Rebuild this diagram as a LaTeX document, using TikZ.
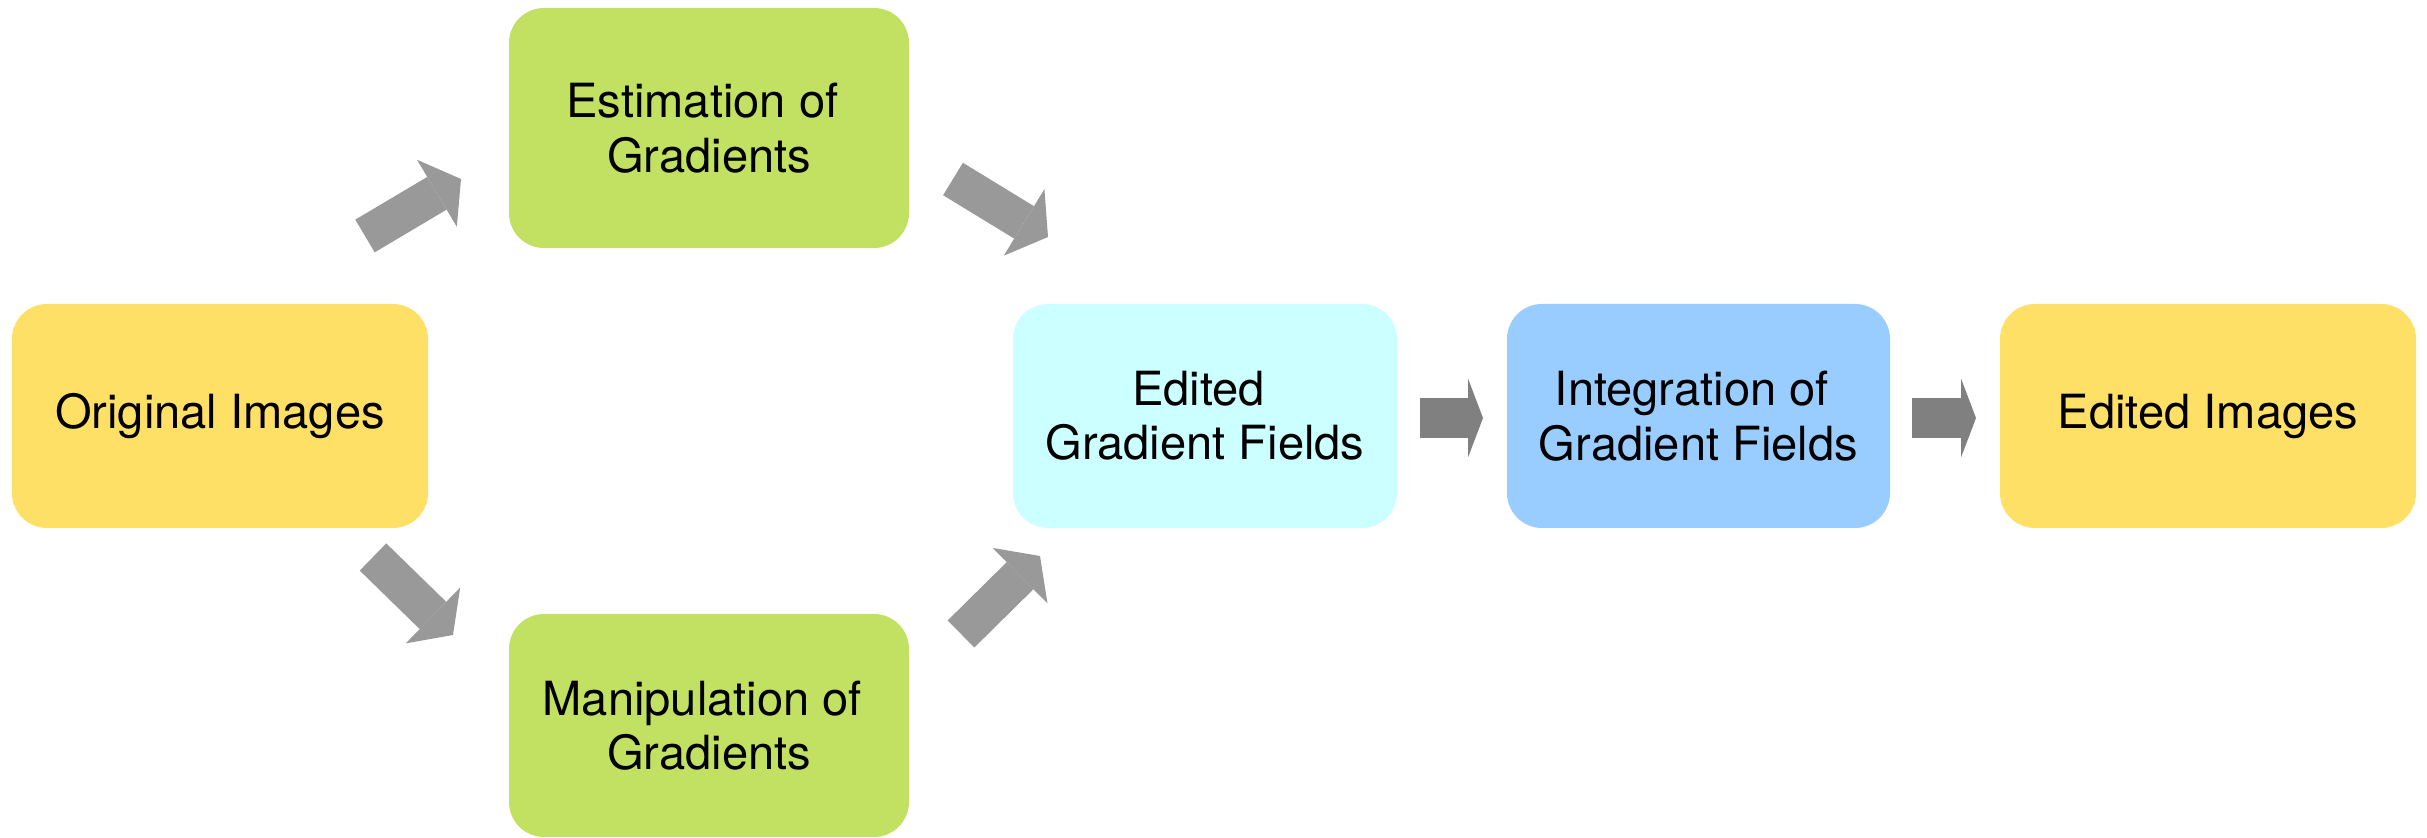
\documentclass[tikz,border=0pt]{standalone}
\usepackage{fontspec}
\setmainfont{TeX Gyre Heros}
\usetikzlibrary{positioning,arrows.meta,calc}

\definecolor{stageyellow}{HTML}{FFE066}
\definecolor{stagegreen}{HTML}{C2E062}
\definecolor{stagecyan}{HTML}{CCFFFF}
\definecolor{stageblue}{HTML}{99CCFF}
\definecolor{slantgray}{HTML}{999999}
\definecolor{flatgray}{HTML}{808080}

\begin{document}
\begin{tikzpicture}[
    every node/.style={font=\fontsize{13.4}{15.5}\selectfont},
    box/.style={rounded corners=0.35cm, outer sep=0pt, inner sep=0pt, align=center,
                minimum width=4.0cm, minimum height=2.24cm, text=black},
    imgbox/.style={box, fill=stageyellow, minimum width=4.16cm},
    gradbox/.style={box, fill=stagegreen},
    fieldbox/.style={box, fill=stagecyan, minimum width=3.84cm},
    intbox/.style={box, fill=stageblue, minimum width=3.83cm},
    slantarrow/.style={slantgray, line width=0.38cm,
                       -{Triangle[length=0.28cm, width=0.78cm, line width=0pt]}},
    flatarrow/.style={flatgray, line width=0.40cm,
                      -{Triangle[length=0.15cm, width=0.79cm, line width=0pt]}},
]
\useasboundingbox (0,0) rectangle (24.27,-8.38);

% ---- Input and the two branches ----
\node[imgbox] (orig) at (2.20,-4.16) {Original Images};
\node[gradbox, minimum height=2.40cm, above right=0.56cm and 0.81cm of orig] (est) {Estimation of\kern0.28em\\Gradients};
\node[gradbox, minimum height=2.23cm, below right=0.86cm and 0.81cm of orig] (manip) {Manipulation of\kern0.28em\\Gradients};

% ---- Main row ----
\node[fieldbox, right=5.85cm of orig] (fields) {Edited\kern0.28em\\Gradient Fields};
\node[intbox, right=1.10cm of fields] (integ) {Integration of\kern0.28em\\Gradient Fields};
\node[imgbox, right=1.10cm of integ] (result) {Edited Images};

% ---- Block arrows ----
\draw[slantarrow] ([shift={(-0.63,0.68)}]orig.north east) -- ([shift={(-0.48,0.69)}]est.south west);
\draw[slantarrow] ([shift={(-0.55,-0.29)}]orig.south east) -- ([shift={(-0.56,-0.21)}]manip.north west);
\draw[slantarrow] ([shift={(0.44,0.69)}]est.south east) -- ([shift={(0.35,0.67)}]fields.north west);
\draw[slantarrow] ([shift={(0.52,-0.20)}]manip.north east) -- ([shift={(0.27,-0.28)}]fields.south west);

\draw[flatarrow] ([xshift=0.23cm,yshift=-0.02cm]fields.east) -- ([xshift=-0.24cm,yshift=-0.02cm]integ.west);
\draw[flatarrow] ([xshift=0.22cm,yshift=-0.02cm]integ.east) -- ([xshift=-0.24cm,yshift=-0.02cm]result.west);

\end{tikzpicture}
\end{document}
